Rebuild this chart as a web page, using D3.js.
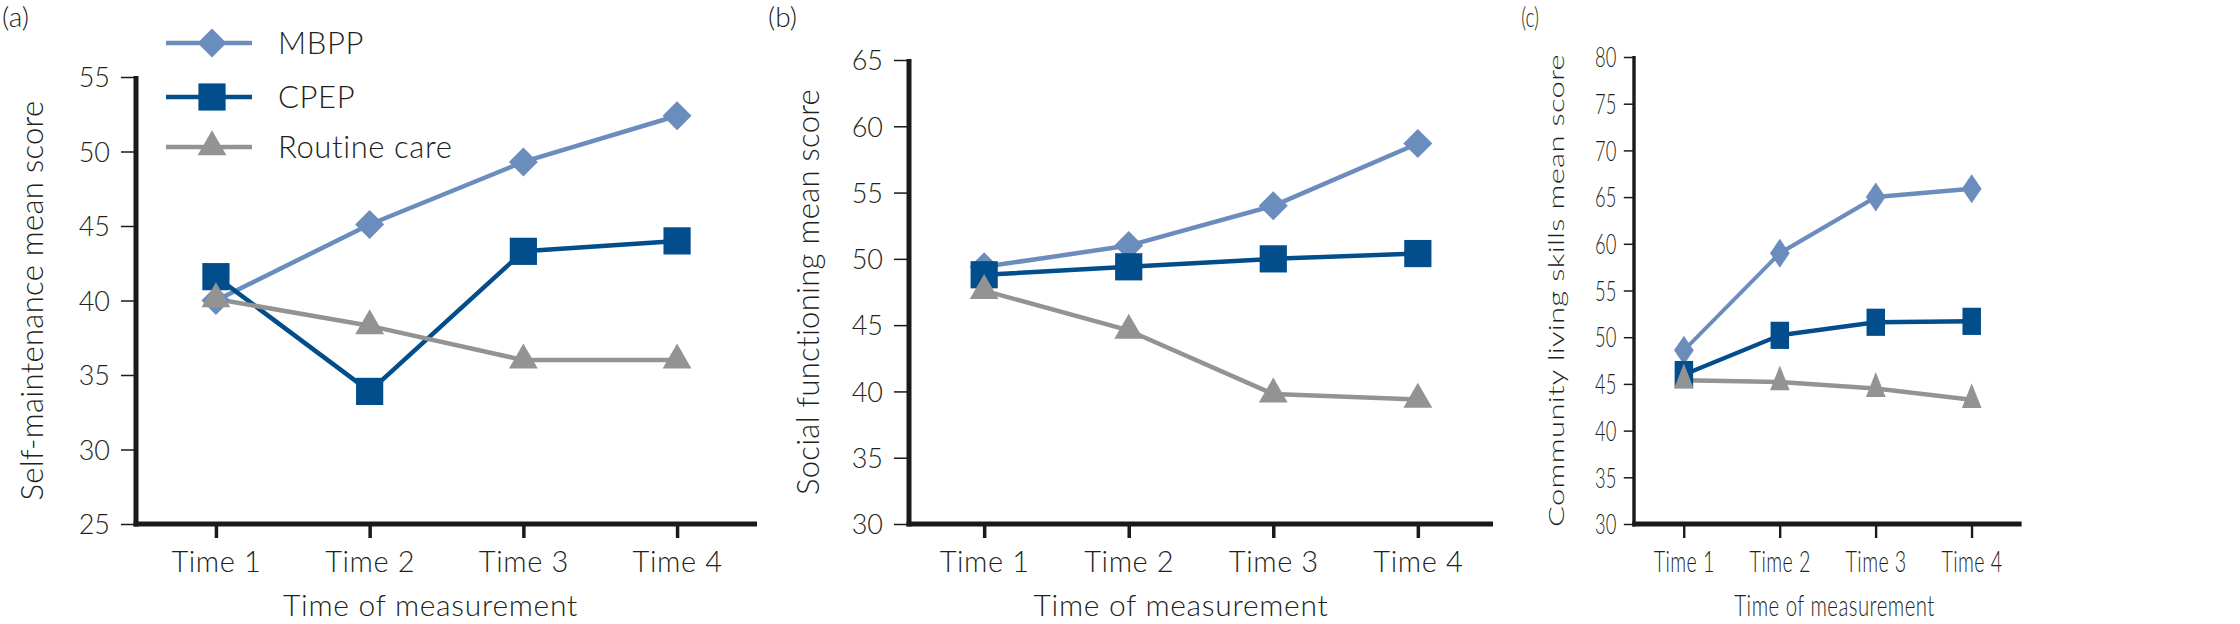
<!DOCTYPE html>
<html>
<head>
<meta charset="utf-8">
<script src="https://cdn.jsdelivr.net/npm/d3@7"></script>
<style>
  html, body { margin: 0; padding: 0; background: #fff; }
  svg text { font-family: Lato, "Open Sans", sans-serif; font-weight: 300; fill: #231f20; }
</style>
</head>
<body>
<div id="chart"></div>
<script>
const TIMES = ["Time 1", "Time 2", "Time 3", "Time 4"];
const SERIES = ["MBPP", "CPEP", "Routine care"];

// (a) self-maintenance
const selfMbpp    = [40.0, 45.1, 49.3, 52.4];
const selfCpep    = [41.6, 33.9, 43.3, 44.0];
const selfRoutine = [40.1, 38.3, 36.0, 36.0];
const selfTicks   = [25, 30, 35, 40, 45, 50, 55];

// (b) social functioning
const socialMbpp    = [49.4, 51.0, 54.0, 58.7];
const socialCpep    = [48.8, 49.4, 50.0, 50.4];
const socialRoutine = [47.6, 44.6, 39.8, 39.4];
const socialTicks   = [30, 35, 40, 45, 50, 55, 60, 65];

// (c) community living skills
const commMbpp    = [48.6, 59.0, 65.0, 65.9];
const commCpep    = [46.0, 50.2, 51.6, 51.7];
const commRoutine = [45.4, 45.2, 44.5, 43.3];
const commTicks   = [30, 35, 40, 45, 50, 55, 60, 65, 70, 75, 80];

const COLORS = { "MBPP": "#6b8dbd", "CPEP": "#024d8b", "Routine care": "#939393" };
const SYMBOLS = {
  "MBPP":         { type: d3.symbolSquare,   size: 420, rotate: 45 },
  "CPEP":         { type: d3.symbolSquare,   size: 740, rotate: 0 },
  "Routine care": { type: d3.symbolTriangle, size: 360, rotate: 0 }
};
const INK = "#1a1a1a";
const AXIS_Y = 524;

const W = 2240, H = 624;
const svg = d3.select("#chart").append("svg")
  .attr("width", W).attr("height", H)
  .attr("viewBox", `0 0 ${W} ${H}`);

function marker(g, name, x, y) {
  const s = SYMBOLS[name];
  g.append("path")
    .attr("d", d3.symbol().type(s.type).size(s.size)())
    .attr("transform", `translate(${x},${y}) rotate(${s.rotate})`)
    .attr("fill", COLORS[name]);
}

function drawPanel(cfg) {
  const g = svg.append("g")
    .attr("transform", `translate(${cfg.left},0) scale(${cfg.sx},1)`);

  const x = d3.scalePoint().domain(TIMES).range([0, cfg.width]).padding(0.52);
  const y = d3.scaleLinear().domain(d3.extent(cfg.ticks)).range([AXIS_Y, cfg.top]);

  // y axis
  const ya = g.append("g").call(d3.axisLeft(y).tickValues(cfg.ticks).tickSize(15).tickPadding(11));
  ya.select(".domain").remove();
  ya.selectAll(".tick line").attr("stroke", INK).attr("stroke-width", 1.5);
  ya.selectAll(".tick text")
    .style("font-size", "27px").attr("dy", "0.36em");

  // x axis
  const xa = g.append("g").attr("transform", `translate(0,${AXIS_Y})`)
    .call(d3.axisBottom(x).tickSize(14));
  xa.select(".domain").remove();
  xa.selectAll(".tick line").attr("stroke", INK).attr("stroke-width", 3.5);
  xa.selectAll(".tick text")
    .attr("y", 48).attr("dy", 0)
    .style("font-size", "29px").style("letter-spacing", "0.6px");

  g.append("line")
    .attr("x1", 0).attr("x2", 0).attr("y1", cfg.top - 1).attr("y2", AXIS_Y + 2.5)
    .attr("stroke", INK).attr("stroke-width", 5);
  g.append("line")
    .attr("x1", -2.5).attr("x2", cfg.width).attr("y1", AXIS_Y).attr("y2", AXIS_Y)
    .attr("stroke", INK).attr("stroke-width", 5);

  // titles
  g.append("text")
    .attr("transform", `translate(${cfg.yLabelX},${(AXIS_Y + cfg.top) / 2}) rotate(-90)`)
    .attr("text-anchor", "middle")
    .style("font-size", "31px").style("letter-spacing", "0.3px")
    .text(cfg.yLabel);
  g.append("text")
    .attr("x", cfg.width / 2 - cfg.titleShift).attr("y", 616)
    .attr("text-anchor", "middle")
    .style("font-size", "30px").style("letter-spacing", "0.7px")
    .text("Time of measurement");
  g.append("text")
    .attr("x", cfg.letterX).attr("y", 27)
    .style("font-size", "28px")
    .text(cfg.letter);

  // series
  const line = d3.line().x((d, i) => x(TIMES[i])).y(d => y(d));
  SERIES.forEach((name, k) => {
    const vals = cfg.series[k];
    g.append("path")
      .attr("d", line(vals))
      .attr("fill", "none")
      .attr("stroke", COLORS[name])
      .attr("stroke-width", 4.5)
      .attr("stroke-linejoin", "round");
  });
  SERIES.forEach((name, k) => {
    cfg.series[k].forEach((v, i) => marker(g, name, x(TIMES[i]), y(v)));
  });

  return g;
}

const gA = drawPanel({
  left: 136, sx: 1, width: 621, top: 77, ticks: selfTicks,
  yLabel: "Self-maintenance mean score", yLabelX: -93, letterX: -134, letter: "(a)",
  titleShift: 16,
  series: [selfMbpp, selfCpep, selfRoutine]
});

drawPanel({
  left: 909, sx: 1, width: 584, top: 60, ticks: socialTicks,
  yLabel: "Social functioning mean score", yLabelX: -90, letterX: -141, letter: "(b)",
  titleShift: 20,
  series: [socialMbpp, socialCpep, socialRoutine]
});

drawPanel({
  left: 1634, sx: 0.68, width: 570, top: 57, ticks: commTicks,
  yLabel: "Community living skills mean score", yLabelX: -103, letterX: -166, letter: "(c)",
  titleShift: -10,
  series: [commMbpp, commCpep, commRoutine]
});

// legend in panel (a)
const leg = gA.append("g").attr("transform", "translate(30,0)");
const legRows = [43, 97, 147];
SERIES.forEach((name, k) => {
  const ly = legRows[k];
  leg.append("line")
    .attr("x1", 0).attr("x2", 86).attr("y1", ly).attr("y2", ly)
    .attr("stroke", COLORS[name]).attr("stroke-width", 4.5);
  marker(leg, name, 46, ly);
  leg.append("text")
    .attr("x", 112).attr("y", ly).attr("dy", "0.36em")
    .style("font-size", "31px").style("letter-spacing", "0.6px")
    .text(name);
});
</script>
</body>
</html>
